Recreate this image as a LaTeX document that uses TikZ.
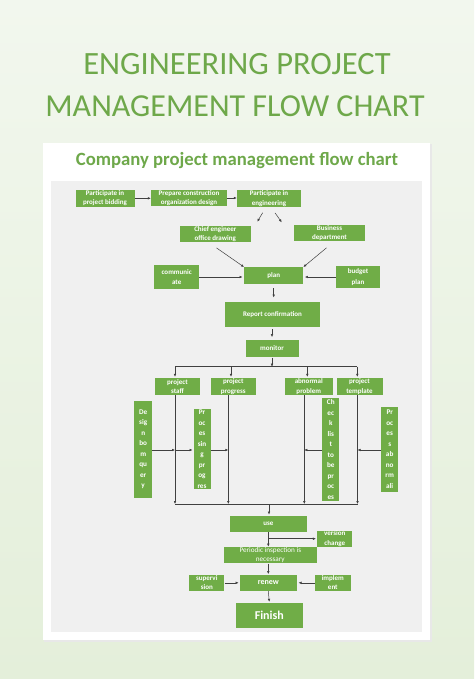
\documentclass[tikz,border=0pt]{standalone}
\usepackage{fontspec}
\setmainfont{Carlito}
\usetikzlibrary{arrows.meta}
\definecolor{bgtop}{HTML}{F2F7EE}
\definecolor{bgbot}{HTML}{E4EFDA}
\definecolor{boxg}{HTML}{70AD47}
\definecolor{titleg}{HTML}{6EA84A}
\definecolor{panel}{HTML}{F0F0F0}
\definecolor{lnc}{HTML}{404040}
\tikzset{
  gbase/.style={fill=boxg, draw=none, inner sep=0pt},
  gtext/.style={text=white, align=center, inner sep=0pt, minimum size=0pt,
    font=\bfseries\fontsize{7}{9.5}\selectfont},
  ctext/.style={gtext, font=\bfseries\fontsize{7}{10.6}\selectfont},
  vtext/.style={gtext, font=\bfseries\fontsize{7.2}{10.5}\selectfont},
  ptext/.style={gtext, font=\fontsize{7.2}{9}\selectfont},
  rtext/.style={gtext, font=\bfseries\fontsize{8}{9}\selectfont},
  ftext/.style={gtext, font=\bfseries\fontsize{12}{13}\selectfont},
  arr/.style={draw=lnc, line width=0.5pt, -{Latex[length=3pt,width=2.6pt]}},
  lnk/.style={draw=lnc, line width=0.5pt},
}
\newcommand\gbx[7][gtext]{%
  \node[gbase, minimum width=#5pt, minimum height=#6pt] (#2) at (#3,#4) {};
  \begin{scope}
    \clip (#2.south west) rectangle (#2.north east);
    \node[#1] (#2t) at (#2.center) {#7};
  \end{scope}}
\begin{document}
\begin{tikzpicture}[x=1pt,y=-1pt]
\useasboundingbox (0,0) rectangle (474,679);
\shade[top color=bgtop, bottom color=bgbot] (0,0) rectangle (474,679);
% titles
\node[anchor=base, text=titleg, font=\fontsize{32.5}{32}\selectfont, inner sep=0pt] (t1) at (237,75) {ENGINEERING PROJECT};
\node[anchor=base, text=titleg, font=\fontsize{32}{32}\selectfont, inner sep=0pt] (t2) at (235,116.5) {MANAGEMENT FLOW CHART};
% card
\fill[black!9] (44,144) rectangle (431.5,641.5);
\fill[white] (43,143) rectangle (430,640);
\fill[panel] (51,180.5) rectangle (422,632);
\node[anchor=base, text=titleg, font=\bfseries\fontsize{18.7}{18}\selectfont, inner sep=0pt] (ct) at (237,166) {Company project management flow chart};
% boxes
\gbx{bid}{105}{198.3}{59}{17}{Participate in\\project bidding}
\gbx{prep}{189}{198}{76}{16}{Prepare construction\\organization design}
\gbx{eng}{269}{198.5}{64}{17}{Participate in\\engineering}
\gbx{chief}{215.3}{234}{71}{16}{Chief engineer\\office drawing}
\gbx{busd}{329.5}{233}{71}{16}{Business\\department}
\gbx[ctext]{comm}{176.7}{277}{45}{24}{communic\\ate}
\gbx{plan}{273.7}{275.7}{59}{17}{plan}
\gbx[ctext]{budget}{358}{277}{44}{22}{budget\\plan}
\gbx{report}{272.5}{314.2}{95}{25}{Report confirmation}
\gbx{monitor}{272}{348.3}{53}{17}{monitor}
\gbx{staff}{177.5}{386.7}{45}{17}{project\\staff}
\gbx{progress}{233.3}{386.7}{45}{17}{project\\progress}
\gbx{abnormal}{308.8}{386.7}{48}{17}{abnormal\\problem}
\gbx{template}{359.5}{386.7}{46}{17}{project\\template}
\gbx[vtext]{design}{143.2}{449.2}{18}{97}{De\\sig\\n\\bo\\m\\qu\\er\\y}
\gbx[vtext]{proc}{202}{449}{17}{80}{Pr\\oc\\es\\sin\\g\\pr\\og\\res}
\gbx[vtext]{check}{330.8}{449.7}{17}{103}{Ch\\ec\\k\\lis\\t\\to\\be\\pr\\oc\\es}
\gbx[vtext]{procab}{389.7}{449.2}{17}{85}{Pr\\oc\\es\\s\\ab\\no\\rm\\ali}
\gbx{use}{268.3}{523.8}{77}{16}{use}
\gbx{version}{334.8}{538.7}{35}{16}{version\\change}
\gbx[ptext]{periodic}{270.3}{555.3}{93}{16}{Periodic inspection is\\necessary}
\gbx[rtext]{renew}{268.3}{582.8}{57}{16}{renew}
\gbx{superv}{206.8}{582.8}{35}{16}{supervi\\sion}
\gbx{impl}{332.8}{582.8}{36}{16}{implem\\ent}
\gbx[ftext]{finish}{269.3}{615}{67}{25}{Finish}
% coordinates
\coordinate (c1) at (257.3,221.7);
\coordinate (c2) at (281.7,222.3);
\coordinate (bt) at (272,366.7);
\coordinate (bl) at (175,366.7);
\coordinate (br) at (357.3,366.7);
\coordinate (d2) at (231,366.7);
\coordinate (d3) at (307.3,366.7);
\coordinate (v1) at (175,504);
\coordinate (v2) at (228.3,504);
\coordinate (v3) at (304.3,504);
\coordinate (v4) at (357.5,504);
\coordinate (vc) at (269,504);
\coordinate (h1) at (175,450);
\coordinate (h2) at (228.3,450);
\coordinate (h3) at (304.3,450);
\coordinate (h4) at (357.5,450);
% connectors
\draw[arr] (bid.east) -- (prep.west |- bid.east);
\draw[arr] (prep.east) -- (eng.west |- prep.east);
\draw[arr, shorten <=6.5pt] ([xshift=-3pt]eng.south) -- (c1);
\draw[arr, shorten <=7pt] ([xshift=2pt]eng.south) -- (c2);
\draw[arr, shorten <=10pt] ([xshift=-7pt]chief.south) -- (plan.north west);
\draw[arr, shorten <=10.5pt] ([xshift=5pt]busd.south) -- (plan.north east);
\draw[arr, shorten >=1.5pt] (comm.east) -- (plan.west |- comm.east);
\draw[arr, shorten >=1.5pt] (budget.west) -- (plan.east |- budget.west);
\draw[arr, shorten <=4pt, shorten >=4pt] (plan.south) -- (plan.south |- report.north);
\draw[arr, shorten <=2.5pt, shorten >=2.5pt] (monitor.north |- report.south) -- (monitor.north);
\draw[arr, shorten <=0.5pt] (monitor.south) -- (bt);
\draw[lnk] (bl) -- (br);
\draw[arr, shorten >=1.2pt] (bl) -- (bl |- staff.north);
\draw[arr, shorten >=1.2pt] (d2) -- (d2 |- progress.north);
\draw[arr, shorten >=1.2pt] (d3) -- (d3 |- abnormal.north);
\draw[arr, shorten >=1.2pt] (br) -- (br |- template.north);
\draw[arr] (v1 |- staff.south) -- (v1);
\draw[arr] (v2 |- progress.south) -- (v2);
\draw[arr] (v3 |- abnormal.south) -- (v3);
\draw[arr] (v4 |- template.south) -- (v4);
\draw[lnk] (v1) -- (v4);
\draw[arr, shorten >=1pt] (vc) -- (vc |- use.north);
\draw[arr] (design.east |- h1) -- (h1);
\draw[arr, shorten >=0.8pt] (h1) -- (proc.west |- h1);
\draw[arr] (proc.east |- h1) -- (h2);
\draw[arr] (check.west |- h3) -- (h3);
\draw[arr] (procab.west |- h4) -- (h4);
\draw[arr, shorten >=0.5pt] (use.south) -- (use.south |- periodic.north);
\draw[arr, shorten >=1.2pt] (use.south |- version.west) -- (version.west);
\draw[arr, shorten >=0.5pt] (renew.north |- periodic.south) -- (renew.north);
\draw[arr, shorten >=1pt] (superv.east) -- (renew.west |- superv.east);
\draw[arr, shorten >=1.5pt] (impl.west) -- (renew.east |- impl.west);
\draw[arr, shorten >=0.5pt] (renew.south) -- (finish.north);
\end{tikzpicture}
\end{document}
